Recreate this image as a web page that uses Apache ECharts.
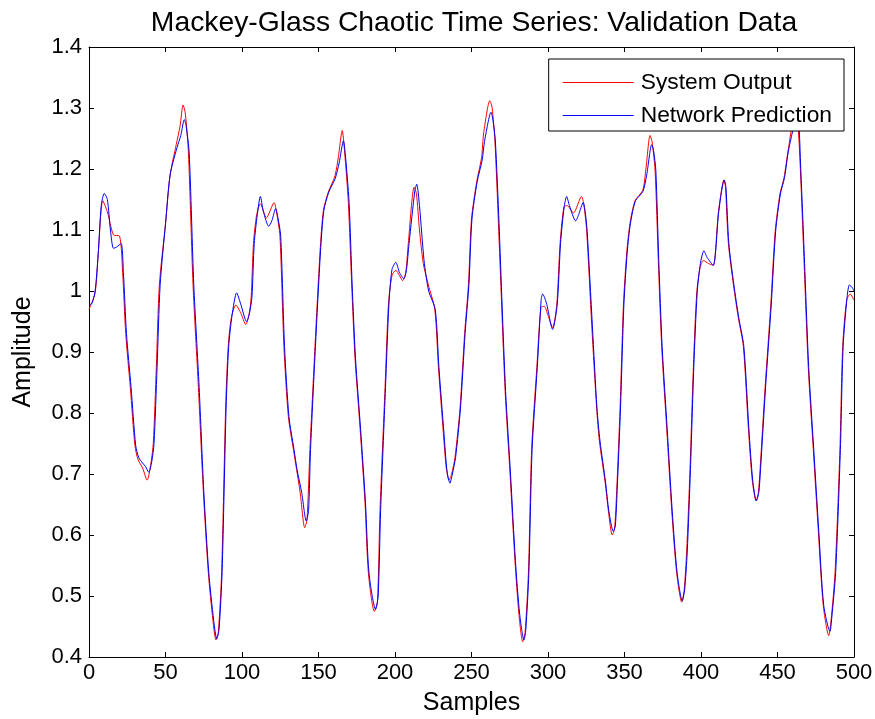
<!DOCTYPE html>
<html>
<head>
<meta charset="utf-8">
<script src="https://cdn.jsdelivr.net/npm/echarts@6/dist/echarts.min.js"></script>
<style>html,body{margin:0;padding:0;background:#fff}#c{width:875px;height:719px}</style>
</head>
<body>
<div id="c"></div>
<script>
const titleText = 'Mackey-Glass Chaotic Time Series: Validation Data';
const seriesNames = ['System Output', 'Network Prediction'];
const xTicks = [0, 50, 100, 150, 200, 250, 300, 350, 400, 450, 500];
const yTicks = [0.4, 0.5, 0.6, 0.7, 0.8, 0.9, 1, 1.1, 1.2, 1.3, 1.4];

const systemOutput = [[0,0.970],[4,0.997],[6,1.06],[9,1.148],[12,1.13],[16,1.092],[20,1.09],[22,1.03],[24,0.93],[27,0.842],[30,0.747],[32,0.724],[35,0.71],[38,0.69],[40,0.71],[42,0.75],[44,0.875],[46,1.01],[50,1.11],[53,1.19],[57,1.24],[59.5,1.27],[61.5,1.305],[63,1.29],[65,1.226],[68,1.01],[71.5,0.842],[74.7,0.673],[78,0.538],[81,0.46],[83,0.428],[84.5,0.44],[86.7,0.54],[89.3,0.808],[91,0.909],[93,0.956],[96,0.977],[99,0.965],[102.5,0.945],[104.5,0.96],[106,0.99],[107.5,1.078],[109.6,1.125],[112,1.143],[116,1.12],[121,1.145],[122.5,1.13],[124.8,1.09],[127.4,0.909],[130.3,0.794],[133.6,0.74],[135.7,0.707],[138,0.67],[141,0.612],[142.5,0.625],[144.4,0.74],[147.7,0.909],[151,1.064],[153.2,1.132],[156.4,1.162],[160.8,1.189],[163,1.22],[165.5,1.263],[167,1.23],[169.5,1.145],[171.7,1.01],[173.9,0.889],[177.2,0.774],[180.4,0.653],[182.6,0.538],[186.5,0.475],[188.5,0.49],[190.2,0.64],[193.5,0.842],[195.7,0.977],[198,1.025],[200.5,1.034],[203,1.025],[205,1.017],[207,1.03],[208.7,1.078],[212.5,1.17],[214,1.16],[216,1.10],[218.5,1.045],[221.8,1.01],[226,0.97],[228.4,0.875],[231.6,0.767],[233.5,0.71],[235.3,0.69],[237,0.7],[239.2,0.727],[242.5,0.808],[245.5,0.93],[248,1.01],[250,1.118],[253.4,1.179],[256.6,1.219],[258,1.26],[262,1.312],[263.5,1.30],[265.3,1.246],[267.6,1.111],[269.7,0.977],[272,0.835],[275.2,0.7],[278.4,0.558],[281,0.47],[283.5,0.425],[285,0.44],[287.2,0.538],[289.3,0.74],[292.7,0.875],[295.4,0.973],[297.5,0.975],[300,0.96],[303,0.94],[305.7,0.977],[307.9,1.078],[310.4,1.138],[312.5,1.14],[316.6,1.128],[321.9,1.155],[323.5,1.14],[325.3,1.098],[328.6,0.943],[331.8,0.808],[333.6,0.754],[337.3,0.687],[339.5,0.639],[342,0.60],[343.5,0.61],[344.9,0.673],[347.1,0.808],[349.3,0.977],[351.5,1.064],[353.6,1.111],[356.9,1.148],[361.9,1.165],[364,1.2],[366.7,1.255],[368,1.245],[370,1.197],[372.1,1.05],[374.3,0.909],[377.6,0.774],[380.9,0.639],[384.1,0.538],[387.4,0.49],[389,0.51],[390.6,0.572],[392.8,0.707],[395,0.875],[397.2,0.997],[399.3,1.037],[401.5,1.05],[405,1.045],[408,1.042],[411.4,1.13],[415,1.182],[416,1.17],[417.9,1.078],[421.2,1.01],[424.4,0.956],[427.7,0.909],[431,0.774],[433.5,0.69],[436,0.656],[437.5,0.67],[438.6,0.707],[441.9,0.842],[445.6,0.977],[448.5,1.098],[451.6,1.159],[454.3,1.186],[457.1,1.233],[461.5,1.29],[463,1.285],[464.7,1.213],[466.9,1.078],[470.1,0.875],[473.4,0.74],[476.7,0.606],[479.9,0.485],[483.5,0.435],[485,0.46],[487.6,0.538],[490.8,0.74],[492.6,0.909],[495.2,0.985],[497.5,0.995],[500,0.985]];

const networkPrediction = [[0,0.977],[2,0.98],[4,1.0],[6,1.06],[8,1.14],[10,1.16],[12,1.15],[14,1.1],[16,1.07],[18,1.072],[21,1.078],[22.5,1.03],[24.5,0.93],[27.5,0.842],[30.5,0.747],[32.5,0.727],[35,0.718],[37,0.712],[39,0.703],[41,0.72],[42.5,0.75],[44.5,0.875],[46.5,1.01],[50,1.11],[53,1.19],[57.5,1.235],[60,1.255],[62.3,1.281],[63.5,1.27],[65.5,1.226],[68.5,1.01],[72,0.842],[75,0.673],[78.3,0.538],[81.5,0.46],[83.5,0.43],[85,0.445],[87,0.54],[89.6,0.808],[91.3,0.909],[93.5,0.96],[96.5,0.997],[99,0.98],[103,0.95],[105,0.965],[106.5,0.99],[108,1.078],[110,1.125],[112,1.155],[114,1.13],[117.5,1.106],[119.5,1.115],[122,1.135],[123.5,1.12],[125.3,1.09],[127.8,0.909],[130.7,0.794],[134,0.74],[136,0.707],[139,0.67],[142,0.623],[143.5,0.64],[144.8,0.74],[148,0.909],[151.3,1.064],[153.5,1.132],[156.7,1.162],[161,1.185],[163.5,1.21],[166.3,1.246],[167.5,1.225],[170,1.145],[172,1.01],[174.2,0.889],[177.5,0.774],[180.7,0.653],[183,0.538],[187.3,0.478],[189,0.5],[190.6,0.64],[193.8,0.842],[196,0.977],[198,1.035],[200.5,1.047],[203,1.03],[205.8,1.02],[207.5,1.035],[209.2,1.078],[213,1.165],[214.2,1.175],[216,1.14],[219,1.05],[222,1.0],[226.3,0.97],[228.7,0.875],[232,0.767],[234,0.705],[235.9,0.685],[237.5,0.70],[239.6,0.727],[242.8,0.808],[245.8,0.93],[248.3,1.01],[250.3,1.118],[253.7,1.179],[257,1.215],[258.5,1.245],[262.8,1.293],[264,1.28],[265.6,1.246],[268,1.111],[270,0.977],[272.3,0.835],[275.5,0.7],[278.7,0.558],[281.5,0.47],[284.3,0.428],[285.5,0.445],[287.5,0.538],[289.6,0.74],[293,0.875],[295.5,0.985],[296.5,0.995],[299,0.98],[303,0.937],[306,0.977],[308.2,1.078],[310.6,1.138],[312.2,1.155],[314,1.14],[318.1,1.115],[320,1.125],[323,1.145],[324.3,1.13],[325.6,1.098],[329,0.943],[332,0.808],[334,0.754],[337.6,0.687],[339.8,0.639],[342.7,0.606],[344,0.615],[345.2,0.673],[347.4,0.808],[349.6,0.977],[351.8,1.064],[353.9,1.111],[357.2,1.148],[362,1.163],[364.5,1.19],[367.8,1.24],[369,1.23],[370.5,1.197],[372.4,1.05],[374.6,0.909],[377.9,0.774],[381.2,0.639],[384.4,0.538],[387.8,0.492],[389.3,0.51],[391,0.572],[393.1,0.707],[395.3,0.875],[397.5,0.997],[399.6,1.045],[401.9,1.066],[404,1.055],[408,1.042],[411.6,1.13],[415.2,1.182],[416.3,1.17],[418.2,1.078],[421.5,1.01],[424.7,0.956],[428,0.909],[431.3,0.774],[433.8,0.69],[436.2,0.656],[437.8,0.67],[438.9,0.707],[442.2,0.842],[445.9,0.977],[448.8,1.098],[451.9,1.159],[454.6,1.186],[457.4,1.233],[462.5,1.28],[464,1.27],[465,1.213],[467.2,1.078],[470.4,0.875],[473.7,0.74],[477,0.606],[480.2,0.485],[484.3,0.442],[485.5,0.465],[488,0.538],[491.1,0.74],[492.9,0.909],[495.5,0.99],[497,1.01],[499,1.005],[500,1.0]];

const font = 'Liberation Sans, Arial, sans-serif';
const chart = echarts.init(document.getElementById('c'), null, {renderer: 'canvas'});

function baseX(pos, showLabel) {
  return {
    type: 'value', position: pos, min: xTicks[0], max: xTicks[xTicks.length - 1], interval: 50,
    axisLine: {show: true, onZero: false, lineStyle: {color: '#000', width: 1}},
    axisTick: {show: true, inside: true, length: 5, lineStyle: {color: '#000'}},
    axisLabel: {show: showLabel, color: '#000', fontSize: 22, fontFamily: font, margin: 5},
    splitLine: {show: false}
  };
}
function baseY(pos, showLabel) {
  return {
    type: 'value', position: pos, min: yTicks[0], max: yTicks[yTicks.length - 1], interval: 0.1,
    axisLine: {show: true, onZero: false, lineStyle: {color: '#000', width: 1}},
    axisTick: {show: true, inside: true, length: 5, lineStyle: {color: '#000'}},
    axisLabel: {show: showLabel, color: '#000', fontSize: 22, fontFamily: font, margin: 7,
      formatter: v => String(Math.round(v * 10) / 10)},
    splitLine: {show: false}
  };
}

const xMain = Object.assign(baseX('bottom', true), {
  name: 'Samples', nameLocation: 'middle', nameGap: 34,
  nameTextStyle: {color: '#000', fontSize: 25, fontFamily: font}
});
const yMain = Object.assign(baseY('left', true), {
  name: 'Amplitude', nameLocation: 'middle', nameGap: 53,
  nameTextStyle: {color: '#000', fontSize: 25, fontFamily: font}
});

chart.setOption({
  animation: false,
  backgroundColor: '#fff',
  title: {
    text: titleText, left: 469, textAlign: 'center', top: 4,
    textStyle: {color: '#000', fontSize: 28.3, fontWeight: 'normal', fontFamily: font}
  },
  grid: {left: 89, right: 21, top: 47, bottom: 62, containLabel: false, outerBoundsMode: 'none'},
  legend: {
    orient: 'vertical', right: 31, top: 59,
    data: seriesNames,
    icon: 'rect', itemWidth: 71, itemHeight: 1, itemGap: 10,
    padding: [12, 12, 4, 14],
    backgroundColor: '#fff', borderColor: '#000', borderWidth: 1, borderRadius: 0,
    textStyle: {color: '#000', fontSize: 22.8, fontFamily: font, padding: [0, 0, 0, 2]}
  },
  xAxis: [xMain, baseX('top', false)],
  yAxis: [yMain, baseY('right', false)],
  series: [
    {name: seriesNames[0], type: 'line', data: systemOutput, symbol: 'none', smooth: 0.25,
     lineStyle: {color: '#ff0000', width: 1}, itemStyle: {color: '#ff0000'}, xAxisIndex: 0, yAxisIndex: 0},
    {name: seriesNames[1], type: 'line', data: networkPrediction, symbol: 'none', smooth: 0.25,
     lineStyle: {color: '#0000ff', width: 1}, itemStyle: {color: '#0000ff'}, xAxisIndex: 0, yAxisIndex: 0}
  ]
});
</script>
</body>
</html>
